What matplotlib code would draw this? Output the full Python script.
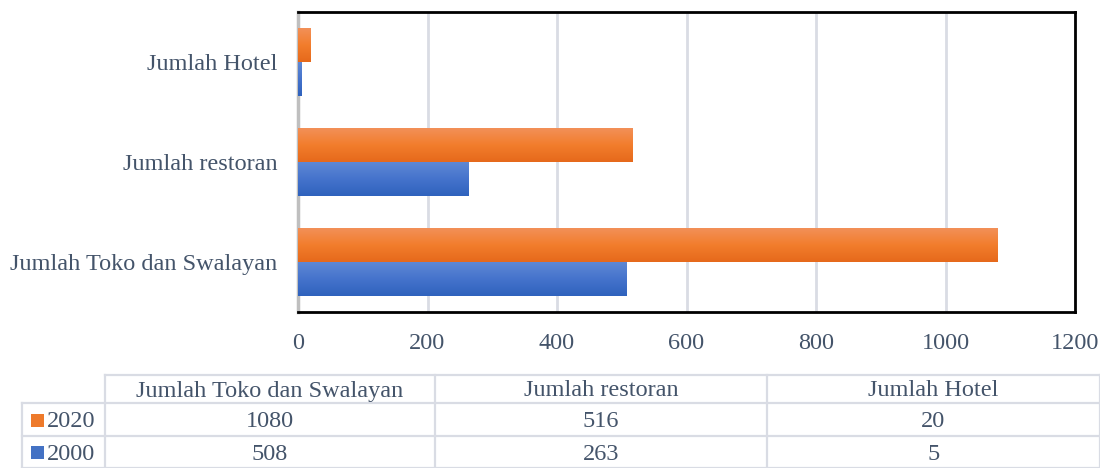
import numpy as np
import matplotlib
matplotlib.use("Agg")
import matplotlib.pyplot as plt
from matplotlib.colors import LinearSegmentedColormap
from matplotlib.patches import Rectangle

categories = ["Jumlah Toko dan Swalayan", "Jumlah restoran", "Jumlah Hotel"]
series_names = ["2020", "2000"]
values_2020 = [1080, 516, 20]
values_2000 = [508, 263, 5]
x_ticks = [0, 200, 400, 600, 800, 1000, 1200]

TXT = "#44546A"
GRID = "#D9DCE4"
FS = 17.5
plt.rcParams['font.family'] = ['Liberation Serif', 'DejaVu Serif']

fig = plt.figure(figsize=(11, 4.68), dpi=100)
ax = fig.add_axes([298/1100, 1-312/468, (1075-298)/1100, 300/468])

y = np.arange(len(categories))
h = 0.34
b20 = ax.barh(y + h/2, values_2020, height=h, color="#EE7A2B", zorder=2)
b00 = ax.barh(y - h/2, values_2000, height=h, color="#4472C4", zorder=2)

cm_o = LinearSegmentedColormap.from_list("o", ["#F39058", "#F27D2C", "#E6691B"])
cm_b = LinearSegmentedColormap.from_list("b", ["#5E88D4", "#4573CC", "#2F62BD"])
grad = np.linspace(0, 1, 64).reshape(-1, 1)
for bars, cm in ((b20, cm_o), (b00, cm_b)):
    for p in bars:
        x0, y0 = p.get_x(), p.get_y()
        w, hh = p.get_width(), p.get_height()
        ax.imshow(grad, cmap=cm, aspect='auto', extent=[x0, x0 + w, y0, y0 + hh],
                  origin='upper', zorder=3, interpolation='bilinear')

ax.set_xlim(0, 1200)
ax.set_ylim(-0.5, len(categories) - 0.5)
ax.set_xticks(x_ticks)
ax.set_xticklabels([str(t) for t in x_ticks])
ax.set_yticks(y)
ax.set_yticklabels(categories)
ax.tick_params(axis='both', length=0, labelsize=FS, colors=TXT)
ax.tick_params(axis='x', pad=15)
ax.tick_params(axis='y', pad=15)
ax.grid(axis='x', color=GRID, linewidth=2, zorder=0)
ax.set_axisbelow(True)
for s in ("top", "right", "bottom"):
    ax.spines[s].set_color("black")
    ax.spines[s].set_linewidth(2)
ax.spines["left"].set_color("#BFBFBF")
ax.spines["left"].set_linewidth(2.5)

# data table drawn below
W, H = 1100, 468
def fx(px): return px / W
def fy(py): return 1 - py / H

col_edges = [22, 105, 435, 767, 1100]
row_edges = [375, 403, 436, 468]
lc = GRID
lw = 1.6
fig.add_artist(plt.Line2D([fx(105), fx(1100)], [fy(375), fy(375)], color=lc, lw=lw))
for ry in row_edges[1:]:
    fig.add_artist(plt.Line2D([fx(22), fx(1100)], [fy(ry), fy(ry)], color=lc, lw=lw))
for cx in col_edges:
    top = 375 if cx >= 105 else 403
    fig.add_artist(plt.Line2D([fx(cx), fx(cx)], [fy(top), fy(468)], color=lc, lw=lw))

for i, c in enumerate(categories):
    cx = (col_edges[i+1] + col_edges[i+2]) / 2
    fig.text(fx(cx), fy(391), c, ha='center', va='center', fontsize=FS, color=TXT)

rows = [(series_names[0], values_2020, "#EE7A2B"), (series_names[1], values_2000, "#4472C4")]
for r, (name, vals, col) in enumerate(rows):
    cy = (row_edges[r+1] + row_edges[r+2]) / 2 + 2
    fig.add_artist(Rectangle((fx(31), fy(cy + 5)), 13/W, 13/H, transform=fig.transFigure,
                             color=col, lw=0))
    fig.text(fx(47), fy(cy), name, ha='left', va='center', fontsize=FS, color=TXT)
    for i, v in enumerate(vals):
        cx = (col_edges[i+1] + col_edges[i+2]) / 2
        fig.text(fx(cx), fy(cy), str(v), ha='center', va='center', fontsize=FS, color=TXT)

fig.savefig("out.png", dpi=100)
